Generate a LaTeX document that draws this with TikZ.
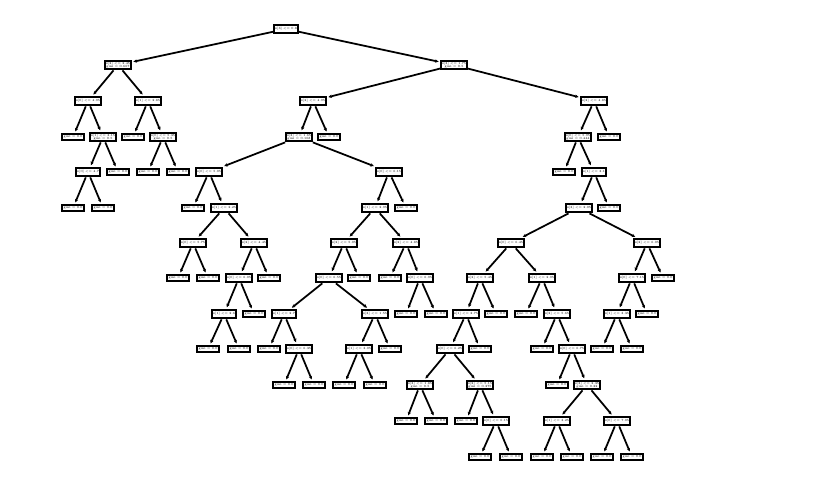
\documentclass[tikz,border=0pt]{standalone}
\usepackage{tikz}
\usetikzlibrary{arrows.meta}

\begin{document}
\begin{tikzpicture}[x=0.03cm,y=-0.03cm,->,>={Stealth[length=3pt,width=2.8pt]},
                    shorten >=1.2pt,line width=1.5pt]
  \tikzstyle{every node}=[font=\fontsize{2.7}{3.1}\selectfont,align=center]
  \tikzstyle{split}=[draw,line width=1.8pt,rectangle,inner sep=0.7pt,
                     minimum width=0.7cm,minimum height=0.26cm]
  \tikzstyle{leaf}=[draw,line width=1.8pt,rectangle,inner sep=0.5pt,
                    minimum width=0.66cm,minimum height=0.19cm]
  \useasboundingbox (0,0) rectangle (813,496);

  % left part
  \node[split] (n0)  at (286,29)  {x[3] <= 0.8};
  \node[split] (n1)  at (118,65)  {x[2] <= 2.45\\gini = 0.667};
  \node[split] (n2)  at (88,101)  {x[0] <= 4.95};
  \node[leaf]  (n3)  at (73,137)  {gini = 0.0};
  \node[split] (n4)  at (103,137) {x[1] <= 3.15\\gini = 0.5};
  \node[split] (n5)  at (88,172)  {x[0] <= 4.7};
  \node[leaf]  (n6)  at (73,208)  {gini = 0.0};
  \node[leaf]  (n7)  at (103,208) {gini = 0.0};
  \node[leaf]  (n8)  at (118,172) {gini = 0.0};
  \node[split] (n9)  at (148,101) {x[1] <= 2.85};
  \node[leaf]  (n10) at (133,137) {gini = 0.0};
  \node[split] (n11) at (163,137) {x[0] <= 5.35\\gini = 0.5};
  \node[leaf]  (n12) at (148,172) {gini = 0.0};
  \node[leaf]  (n13) at (178,172) {gini = 0.0};

  % middle part
  \node[split] (n14) at (454,65)  {x[3] <= 1.75\\gini = 0.5};
  \node[split] (n15) at (313,101) {x[2] <= 4.95};
  \node[split] (n16) at (299,137) {x[3] <= 1.65\\gini = 0.168};
  \node[leaf]  (n17) at (329,137) {gini = 0.0};
  \node[split] (n18) at (209,172) {x[0] <= 5.05};
  \node[leaf]  (n19) at (193,208) {gini = 0.0};
  \node[split] (n20) at (224,208) {x[1] <= 2.25};
  \node[split] (n21) at (193,243) {x[0] <= 5.75};
  \node[leaf]  (n22) at (178,278) {gini = 0.0};
  \node[leaf]  (n23) at (208,278) {gini = 0.0};
  \node[split] (n24) at (254,243) {x[2] <= 4.45};
  \node[split] (n25) at (239,278) {x[0] <= 6.05};
  \node[split] (n26) at (224,314) {x[1] <= 2.6};
  \node[leaf]  (n27) at (208,349) {gini = 0.0};
  \node[leaf]  (n28) at (239,349) {gini = 0.0};
  \node[leaf]  (n29) at (254,314) {gini = 0.0};
  \node[leaf]  (n30) at (269,278) {gini = 0.0};
  \node[split] (n31) at (389,172) {x[0] <= 6.15};
  \node[split] (n32) at (375,208) {x[1] <= 2.95};
  \node[leaf]  (n33) at (406,208) {gini = 0.0};
  \node[split] (n34) at (344,243) {x[2] <= 5.05};
  \node[split] (n35) at (329,278) {x[0] <= 6.55};
  \node[split] (n36) at (284,314) {x[1] <= 2.7};
  \node[leaf]  (n37) at (269,349) {gini = 0.0};
  \node[split] (n38) at (299,349) {x[0] <= 6.35};
  \node[leaf]  (n39) at (284,385) {gini = 0.0};
  \node[leaf]  (n40) at (314,385) {gini = 0.0};
  \node[split] (n41) at (375,314) {x[3] <= 1.55};
  \node[split] (n42) at (359,349) {x[1] <= 3.05};
  \node[leaf]  (n43) at (344,385) {gini = 0.0};
  \node[leaf]  (n44) at (375,385) {gini = 0.0};
  \node[leaf]  (n45) at (390,349) {gini = 0.0};
  \node[leaf]  (n46) at (359,278) {gini = 0.0};
  \node[split] (n47) at (406,243) {x[2] <= 4.85};
  \node[leaf]  (n48) at (390,278) {gini = 0.0};
  \node[split] (n49) at (420,278) {x[0] <= 6.95};
  \node[leaf]  (n50) at (406,314) {gini = 0.0};
  \node[leaf]  (n51) at (436,314) {gini = 0.0};

  % right part
  \node[split] (n52) at (594,101) {x[2] <= 4.85};
  \node[split] (n53) at (578,137) {x[0] <= 5.95\\gini = 0.444};
  \node[leaf]  (n54) at (609,137) {gini = 0.0};
  \node[leaf]  (n55) at (564,172) {gini = 0.0};
  \node[split] (n56) at (594,172) {x[1] <= 3.1};
  \node[split] (n57) at (579,208) {x[3] <= 2.05};
  \node[leaf]  (n58) at (609,208) {gini = 0.0};
  \node[split] (n59) at (511,243) {x[0] <= 6.45};
  \node[split] (n60) at (480,278) {x[2] <= 5.45};
  \node[split] (n61) at (466,314) {x[1] <= 2.75};
  \node[split] (n62) at (450,349) {x[0] <= 6.25};
  \node[split] (n63) at (420,385) {x[3] <= 1.85\\gini = 0.5};
  \node[leaf]  (n64) at (406,421) {gini = 0.0};
  \node[leaf]  (n65) at (436,421) {gini = 0.0};
  \node[split] (n66) at (480,385) {x[2] <= 5.15\\gini = 0.375};
  \node[leaf]  (n67) at (466,421) {gini = 0.0};
  \node[split] (n68) at (496,421) {x[0] <= 6.15};
  \node[leaf]  (n69) at (480,457) {gini = 0.0};
  \node[leaf]  (n70) at (511,457) {gini = 0.0};
  \node[leaf]  (n71) at (480,349) {gini = 0.0};
  \node[leaf]  (n72) at (496,314) {gini = 0.0};
  \node[split] (n73) at (542,278) {x[1] <= 2.95};
  \node[leaf]  (n74) at (526,314) {gini = 0.0};
  \node[split] (n75) at (557,314) {x[2] <= 5.65};
  \node[leaf]  (n76) at (542,349) {gini = 0.0};
  \node[split] (n77) at (572,349) {x[0] <= 6.75};
  \node[leaf]  (n78) at (557,385) {gini = 0.0};
  \node[split] (n79) at (587,385) {x[3] <= 2.35\\gini = 0.32};
  \node[split] (n80) at (557,421) {x[1] <= 3.25};
  \node[leaf]  (n81) at (542,457) {gini = 0.0};
  \node[leaf]  (n82) at (572,457) {gini = 0.0};
  \node[split] (n83) at (617,421) {x[0] <= 7.05};
  \node[leaf]  (n84) at (602,457) {gini = 0.0};
  \node[leaf]  (n85) at (632,457) {gini = 0.0};
  \node[split] (n86) at (647,243) {x[2] <= 6.05};
  \node[split] (n87) at (632,278) {x[0] <= 7.15};
  \node[split] (n88) at (617,314) {x[1] <= 3.35};
  \node[leaf]  (n89) at (602,349) {gini = 0.0};
  \node[leaf]  (n90) at (632,349) {gini = 0.0};
  \node[leaf]  (n91) at (647,314) {gini = 0.0};
  \node[leaf]  (n92) at (663,278) {gini = 0.0};

  \path (n0)  edge (n1)  edge (n14)
        (n1)  edge (n2)  edge (n9)
        (n2)  edge (n3)  edge (n4)
        (n4)  edge (n5)  edge (n8)
        (n5)  edge (n6)  edge (n7)
        (n9)  edge (n10) edge (n11)
        (n11) edge (n12) edge (n13)
        (n14) edge (n15) edge (n52)
        (n15) edge (n16) edge (n17)
        (n16) edge (n18) edge (n31)
        (n18) edge (n19) edge (n20)
        (n20) edge (n21) edge (n24)
        (n21) edge (n22) edge (n23)
        (n24) edge (n25) edge (n30)
        (n25) edge (n26) edge (n29)
        (n26) edge (n27) edge (n28)
        (n31) edge (n32) edge (n33)
        (n32) edge (n34) edge (n47)
        (n34) edge (n35) edge (n46)
        (n35) edge (n36) edge (n41)
        (n36) edge (n37) edge (n38)
        (n38) edge (n39) edge (n40)
        (n41) edge (n42) edge (n45)
        (n42) edge (n43) edge (n44)
        (n47) edge (n48) edge (n49)
        (n49) edge (n50) edge (n51)
        (n52) edge (n53) edge (n54)
        (n53) edge (n55) edge (n56)
        (n56) edge (n57) edge (n58)
        (n57) edge (n59) edge (n86)
        (n59) edge (n60) edge (n73)
        (n60) edge (n61) edge (n72)
        (n61) edge (n62) edge (n71)
        (n62) edge (n63) edge (n66)
        (n63) edge (n64) edge (n65)
        (n66) edge (n67) edge (n68)
        (n68) edge (n69) edge (n70)
        (n73) edge (n74) edge (n75)
        (n75) edge (n76) edge (n77)
        (n77) edge (n78) edge (n79)
        (n79) edge (n80) edge (n83)
        (n80) edge (n81) edge (n82)
        (n83) edge (n84) edge (n85)
        (n86) edge (n87) edge (n92)
        (n87) edge (n88) edge (n91)
        (n88) edge (n89) edge (n90)
;
\end{tikzpicture}
\end{document}
